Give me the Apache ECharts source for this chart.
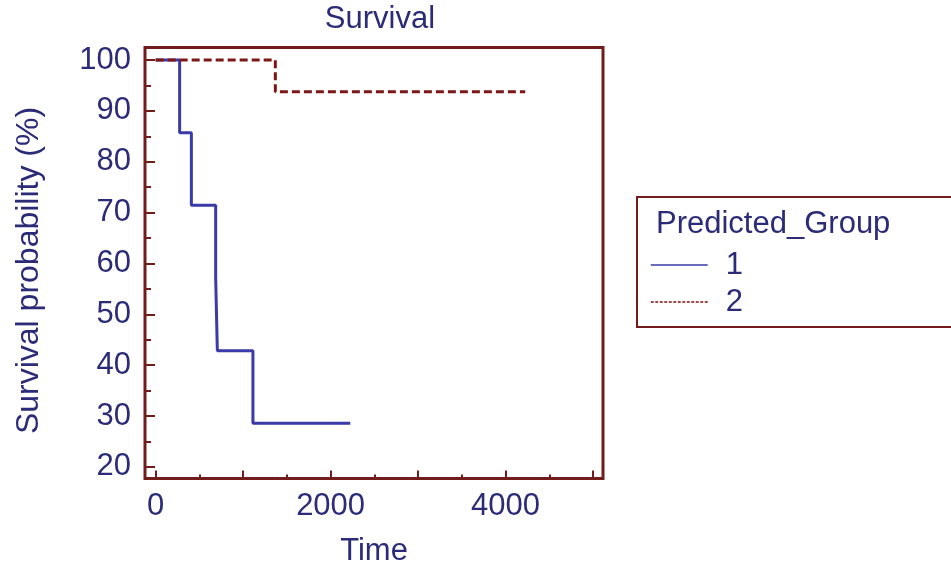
<!DOCTYPE html>
<html>
<head>
<meta charset="utf-8">
<script src="https://cdn.jsdelivr.net/npm/echarts@6/dist/echarts.min.js"></script>
<style>html,body{margin:0;padding:0;background:#fff;}#c{width:951px;height:571px;}</style>
</head>
<body>
<div id="c"></div>
<script>
// ---- data ----
const groupNames = ['1', '2'];
const timeG1 = [0, 274, 408, 686, 705, 1112, 2225];
const survG1 = [100, 85.71, 71.43, 57.14, 42.86, 28.57, 28.57];
const timeG2 = [0, 1368, 4225];
const survG2 = [100, 93.75, 93.75];
const xMajorTicks = [0, 1000, 2000, 3000, 4000, 5000];
const xMinorTicks = [500, 1500, 2500, 3500, 4500];
const xTickLabels = [0, 2000, 4000];
const yMajorTicks = [20, 30, 40, 50, 60, 70, 80, 90, 100];
const yMinorTicks = [25, 35, 45, 55, 65, 75, 85, 95];
const yTickLabels = [20, 30, 40, 50, 60, 70, 80, 90, 100];

const textColor = '#2b2b78';
const frameColor = '#721c1c';
const blue = '#3a3aa8';
const red = '#7e1616';
const font = 'Liberation Sans, Arial, sans-serif';
const fs = 31;

const chart = echarts.init(document.getElementById('c'), null, {renderer: 'canvas'});

function pairs(xs, ys) { return xs.map((x, i) => [x, ys[i]]); }

const xRange = {min: -122, max: 5114};
const yRange = {min: 17.72, max: 102.46};
const gridRect = {left: 145, top: 47.5, width: 458, height: 431};

const option = {
  animation: false,
  backgroundColor: '#fff',
  grid: [
    Object.assign({show: true, borderColor: frameColor, borderWidth: 3, backgroundColor: 'transparent', containLabel: false, outerBoundsMode: 'none'}, gridRect),
    Object.assign({show: false, containLabel: false, outerBoundsMode: 'none'}, gridRect)
  ],
  xAxis: [
    {
      gridIndex: 0, type: 'value', position: 'bottom', min: xRange.min, max: xRange.max,
      splitLine: {show: false}, axisLine: {show: false, onZero: false},
      axisTick: {show: true, inside: true, length: 8, customValues: xMajorTicks, lineStyle: {color: frameColor, width: 2}},
      axisLabel: {customValues: xTickLabels, formatter: v => String(v), color: textColor, fontSize: fs, fontFamily: font, margin: 12},
      name: 'Time', nameLocation: 'middle', nameGap: 57,
      nameTextStyle: {color: textColor, fontSize: fs, fontFamily: font}
    },
    {
      gridIndex: 1, type: 'value', position: 'bottom', min: xRange.min, max: xRange.max,
      splitLine: {show: false}, axisLine: {show: false, onZero: false},
      axisTick: {show: true, inside: true, length: 4, customValues: xMinorTicks, lineStyle: {color: frameColor, width: 2}},
      axisLabel: {show: false}
    }
  ],
  yAxis: [
    {
      gridIndex: 0, type: 'value', position: 'left', min: yRange.min, max: yRange.max,
      splitLine: {show: false}, axisLine: {show: false, onZero: false},
      axisTick: {show: true, inside: true, length: 10, customValues: yMajorTicks, lineStyle: {color: frameColor, width: 2}},
      axisLabel: {customValues: yTickLabels, color: textColor, fontSize: fs, fontFamily: font, margin: 14},
      name: 'Survival probability (%)', nameLocation: 'middle', nameGap: 100,
      nameTextStyle: {color: textColor, fontSize: 32, fontFamily: font, padding: [0, 15, 0, 0]}
    },
    {
      gridIndex: 1, type: 'value', position: 'left', min: yRange.min, max: yRange.max,
      splitLine: {show: false}, axisLine: {show: false, onZero: false},
      axisTick: {show: true, inside: true, length: 6, customValues: yMinorTicks, lineStyle: {color: frameColor, width: 2}},
      axisLabel: {show: false}
    }
  ],
  legend: {
    orient: 'vertical', left: 650, top: 246.5, padding: 0, itemGap: 0,
    itemWidth: 57, itemHeight: 14,
    itemStyle: {opacity: 0},
    data: [
      {name: groupNames[0], lineStyle: {width: 1.5, type: 'solid'}},
      {name: groupNames[1], lineStyle: {width: 1.5, type: [3, 1.5]}}
    ],
    textStyle: {color: textColor, fontSize: fs, fontFamily: font, lineHeight: 37, padding: [0, 0, 0, 13]}
  },
  graphic: [
    {type: 'text', x: 380, y: 19, style: {text: 'Survival', fill: textColor, font: fs + 'px ' + font, textAlign: 'center', textVerticalAlign: 'middle'}},
    {type: 'rect', shape: {x: 637, y: 197, width: 330, height: 130}, style: {fill: 'none', stroke: frameColor, lineWidth: 2}},
    {type: 'text', x: 656, y: 224, style: {text: 'Predicted_Group', fill: textColor, font: fs + 'px ' + font, textAlign: 'left', textVerticalAlign: 'middle'}}
  ],
  series: [
    {
      name: groupNames[0], type: 'line', step: 'end', symbol: 'none',
      xAxisIndex: 0, yAxisIndex: 0,
      data: pairs(timeG1, survG1),
      lineStyle: {color: blue, width: 3}, itemStyle: {color: blue}
    },
    {
      name: groupNames[1], type: 'line', step: 'end', symbol: 'none',
      xAxisIndex: 0, yAxisIndex: 0,
      data: pairs(timeG2, survG2),
      lineStyle: {color: red, width: 3, type: [8, 4]}, itemStyle: {color: red}
    }
  ]
};
chart.setOption(option);
</script>
</body>
</html>
